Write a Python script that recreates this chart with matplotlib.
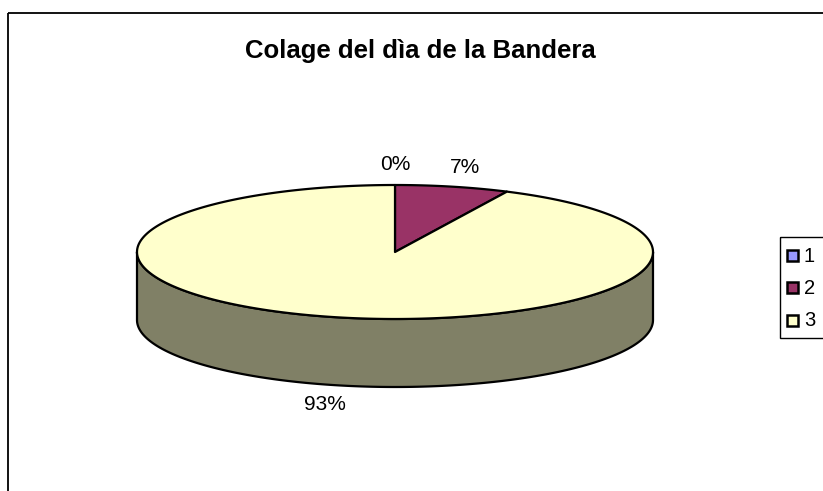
# pastel 3D estilo Excel: Colage del dia de la Bandera
import matplotlib.pyplot as plt
import numpy as np
from matplotlib.patches import Polygon, Rectangle

plt.rcParams["font.family"] = ["Liberation Sans", "DejaVu Sans"]

titulo = "Colage del dìa de la Bandera"
categorias = ["1", "2", "3"]
valores = [0, 1, 13]
colores = ["#9999FF", "#993366", "#FFFFCC"]
lados = ["#4D4D80", "#4D1A33", "#808066"]

fig = plt.figure(figsize=(8.23, 4.91), dpi=100)
ax = fig.add_axes([0, 0, 1, 1])
ax.set_xlim(0, 823)
ax.set_ylim(491, 0)
ax.axis("off")

# geometria do pastel (pixels)
cx, cy, a, b, prof = 395, 252, 258, 67, 68


def borda(t, yc):
    return cx + a * np.sin(t), yc - b * np.cos(t)


fracs = np.array(valores) / sum(valores)
lims = np.concatenate([[0], np.cumsum(fracs)]) * 2 * np.pi

# lados visiveis (metade da frente)
for i in range(len(valores)):
    t0, t1 = max(lims[i], np.pi / 2), min(lims[i + 1], 3 * np.pi / 2)
    if t1 <= t0:
        continue
    t = np.linspace(t0, t1, 300)
    xs, ys = borda(t, cy)
    xb, yb = borda(t[::-1], cy + prof)
    pts = np.column_stack([np.r_[xs, xb], np.r_[ys, yb]])
    ax.add_patch(Polygon(pts, closed=True, fc=lados[i], ec="black", lw=1.6,
                         joinstyle="round"))

# topo
for i in range(len(valores)):
    if fracs[i] == 0:
        continue
    t = np.linspace(lims[i], lims[i + 1], 400)
    xs, ys = borda(t, cy)
    pts = np.column_stack([np.r_[cx, xs], np.r_[cy, ys]])
    ax.add_patch(Polygon(pts, closed=True, fc=colores[i], ec="black", lw=1.6,
                         joinstyle="round"))

# rotulos de porcentagem
for i in range(len(valores)):
    meio = (lims[i] + lims[i + 1]) / 2
    yc = cy if np.cos(meio) >= 0 else cy + prof
    x = cx + 1.22 * a * np.sin(meio)
    y = yc - (b + 20) * np.cos(meio)
    ax.text(x, y, f"{fracs[i] * 100:.0f}%", fontsize=15, ha="center",
            va="center", color="black")

ax.text(420, 51, titulo, fontsize=18.5, fontweight="bold", ha="center",
        va="center")

# legenda
ax.add_patch(Rectangle((780, 237), 60, 101, fill=False, ec="black", lw=1.0))
for i, (cat, cor) in enumerate(zip(categorias, colores)):
    yl = 255 + i * 32.5
    ax.add_patch(Rectangle((787, yl - 5.5), 11, 11, fc=cor, ec="black", lw=1.8))
    ax.text(804, yl + 1, cat, fontsize=14.5, ha="left", va="center")

# moldura
ax.add_patch(Rectangle((8, 13), 830, 500, fill=False, ec="black", lw=1.3))

fig.savefig("out.png", dpi=100)
